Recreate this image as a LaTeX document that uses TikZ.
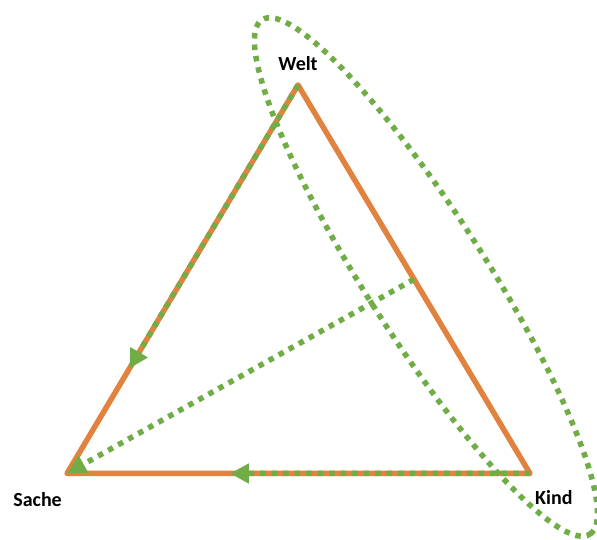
\documentclass[tikz,border=0pt]{standalone}
\usepackage{fontspec}
\setmainfont{Carlito}
\usetikzlibrary{arrows.meta,positioning,calc}
\definecolor{triorange}{HTML}{E2823F}
\definecolor{dotgreen}{HTML}{70AD47}

\begin{document}
\begin{tikzpicture}[x=1pt,y=1pt,
  edge/.style={draw=triorange,line width=5.5pt,line join=round},
  dotline/.style={draw=dotgreen,line width=5.5pt,dash pattern=on 5.5pt off 6pt},
  tip/.style={-{Triangle[length=19pt,width=19pt]}},
  corner/.style={font=\fontsize{20}{24}\selectfont\bfseries,inner sep=0pt}]
  \useasboundingbox (0,0) rectangle (597,540);
  \coordinate (W) at (298,455);
  \coordinate (S) at (67,66.5);
  \coordinate (K) at (530,66.5);
  \coordinate (M) at ($(W)!0.5!(K)$);
  \coordinate (E) at (426,263);
  \node[corner,above=14pt of W] (welt) {Welt};
  \node[corner,below left=19pt and 5pt of S] (sache) {Sache};
  \node[corner,below right=17pt and 5pt of K] (kind) {Kind};
  % triangle
  \draw[edge] (W) -- (S) -- (K) -- cycle;
  % dotted arrows
  \draw[dotline,tip] (W) -- ($(W)!0.73!(S)$);
  \draw[dotline,tip] (K) -- ($(K)!0.648!(S)$);
  \draw[dotline,tip] (M) -- (S);
  \draw[dotline,rotate around={-57.5:(E)}] (E) ellipse [x radius=305, y radius=60];
\end{tikzpicture}
\end{document}
